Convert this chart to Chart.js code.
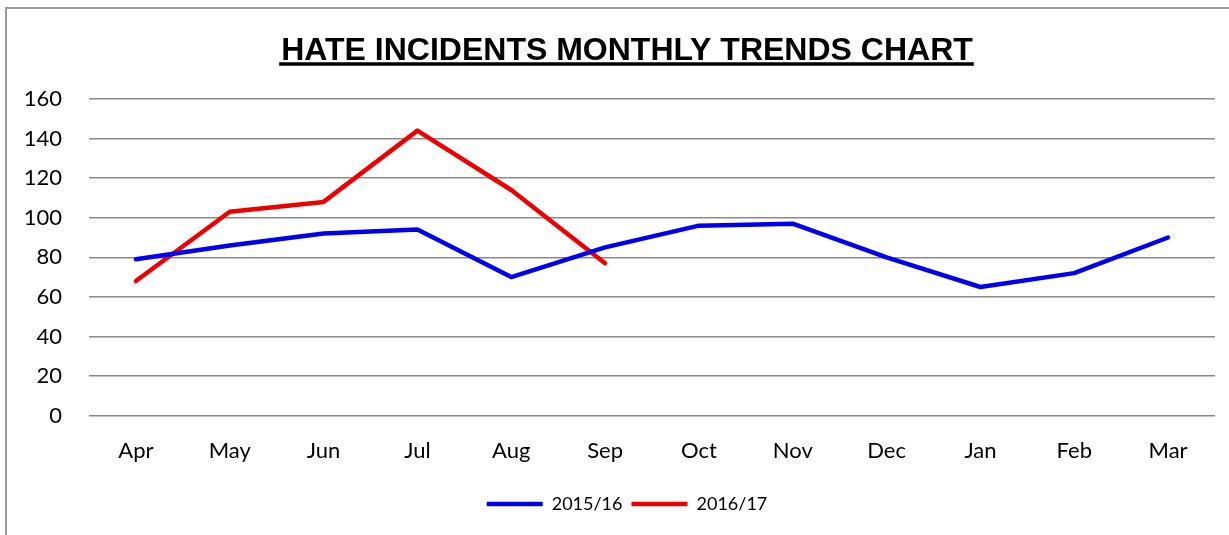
<!DOCTYPE html>
<html>
<head>
<meta charset="utf-8">
<script src="https://cdn.jsdelivr.net/npm/chart.js@4.4.0/dist/chart.umd.min.js"></script>
<style>
  html, body { margin: 0; padding: 0; background: #fff; }
  #wrap { position: relative; width: 1229px; height: 535px; overflow: hidden; }
  #frame { position: absolute; left: 5px; top: 7px; width: 1300px; height: 600px; border-left: 2px solid #999; border-top: 2px solid #999; box-sizing: border-box; }
  canvas { position: absolute; left: 0; top: 0; }
</style>
</head>
<body>
<div id="wrap">
  <div id="frame"></div>
  <canvas id="c" width="1229" height="535"></canvas>
</div>
<script>
const months = ['Apr','May','Jun','Jul','Aug','Sep','Oct','Nov','Dec','Jan','Feb','Mar'];
const series2015 = [79, 86, 92, 94, 70, 85, 96, 97, 80, 65, 72, 90];
const series2016 = [68, 103, 108, 144, 114, 77, null, null, null, null, null, null];
const seriesNames = ['2015/16', '2016/17'];
const chartTitle = 'HATE INCIDENTS MONTHLY TRENDS CHART';

const underlineTitle = {
  id: 'underlineTitle',
  afterDraw(chart) {
    const t = chart.titleBlock;
    if (!t) return;
    const ctx = chart.ctx;
    const font = Chart.helpers.toFont(t.options.font);
    ctx.save();
    ctx.font = font.string;
    const w = ctx.measureText(t.options.text).width;
    const cx = (t.left + t.right) / 2;
    const y = t.top + t.options.padding.top + font.lineHeight / 2 + font.size * 0.40;
    ctx.strokeStyle = '#000';
    ctx.lineWidth = 3.5;
    ctx.beginPath();
    ctx.moveTo(cx - w / 2 - 2, y);
    ctx.lineTo(cx + w / 2 + 1, y);
    ctx.stroke();
    ctx.restore();
  }
};

new Chart(document.getElementById('c'), {
  type: 'line',
  data: {
    labels: months,
    datasets: [
      { label: seriesNames[0], data: series2015, borderColor: '#0000ee', backgroundColor: '#0000ee',
        borderWidth: 4.5, pointRadius: 0, pointHoverRadius: 0, tension: 0, borderCapStyle: 'round', borderJoinStyle: 'round' },
      { label: seriesNames[1], data: series2016, borderColor: '#ee0000', backgroundColor: '#ee0000',
        borderWidth: 4.5, pointRadius: 0, pointHoverRadius: 0, tension: 0, borderCapStyle: 'round', borderJoinStyle: 'round', spanGaps: false }
    ]
  },
  options: {
    responsive: false,
    animation: false,
    layout: { padding: { left: 39, right: 14, top: 18, bottom: 12 } },
    plugins: {
      title: {
        display: true, text: chartTitle, color: '#000',
        font: { family: '"Liberation Sans", Arial, sans-serif', size: 32, weight: 'bold', lineHeight: 1.2 },
        padding: { top: 13.9, bottom: 28.7 }
      },
      legend: {
        position: 'bottom',
        labels: {
          usePointStyle: true, pointStyle: 'line', pointStyleWidth: 56,
          color: '#000', padding: 9,
          font: { family: 'Lato, "Open Sans", sans-serif', size: 18 }
        }
      },
      tooltip: { enabled: false }
    },
    scales: {
      x: {
        offset: true,
        grid: { display: false, drawTicks: false },
        border: { display: false },
        ticks: { color: '#000', padding: 22, font: { family: 'Lato, "Open Sans", sans-serif', size: 22 } }
      },
      y: {
        min: 0, max: 160,
        grid: { color: '#8a8a8a', lineWidth: 1.5, drawTicks: false },
        border: { display: false },
        afterFit(scale) {
          scale.width = 50;
          scale._computeLabelArea = function () { return undefined; };
        },
        ticks: { stepSize: 20, color: '#000', padding: 27, font: { family: 'Lato, "Open Sans", sans-serif', size: 22 } }
      }
    }
  },
  plugins: [underlineTitle]
});
</script>
</body>
</html>
